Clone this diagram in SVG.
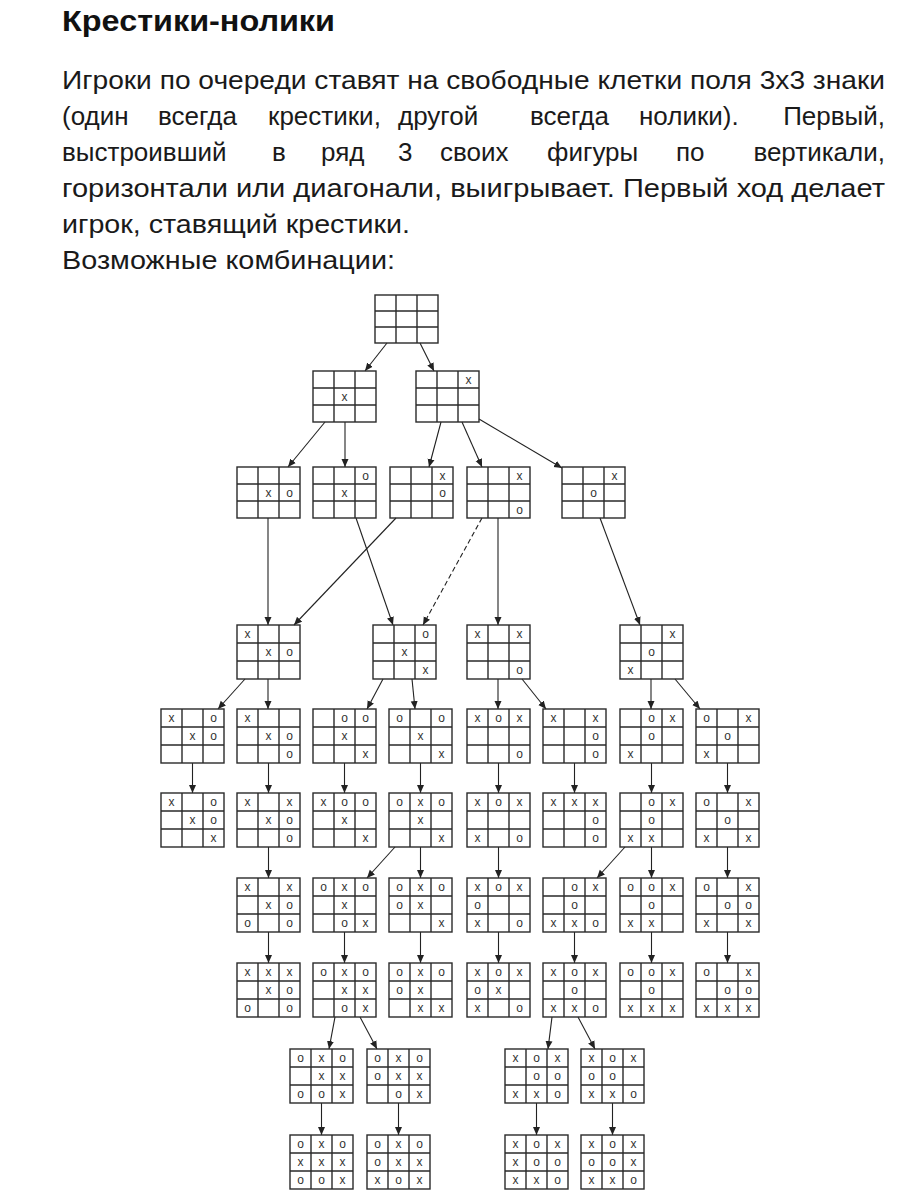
<svg xmlns="http://www.w3.org/2000/svg" xmlns:xlink="http://www.w3.org/1999/xlink" width="900" height="1200" viewBox="0 0 900 1200">
<style>
.title{font-family:"Liberation Sans",Arial,sans-serif;font-weight:bold;font-size:30px;fill:#111}
.body{font-family:"Liberation Sans",Arial,sans-serif;font-size:26px;fill:#1a1a1a}
.grid rect,.grid path{fill:none;stroke:#2a2a2a;stroke-width:1.4}
.m{font-family:"Liberation Sans",Arial,sans-serif;font-size:12px;fill:#333;text-anchor:middle;dominant-baseline:central}
.c line{stroke:#222;stroke-width:1.1;marker-end:url(#ah)}
.c .dash{stroke-dasharray:5 3}
</style>
<defs>
<g id="g48" class="grid"><rect width="63" height="48"/><path d="M21 0V48M42 0V48M0 16H63M0 32H63"/></g>
<g id="g51" class="grid"><rect width="63" height="51"/><path d="M21 0V51M42 0V51M0 17H63M0 34H63"/></g>
<g id="g54" class="grid"><rect width="63" height="54"/><path d="M21 0V54M42 0V54M0 18H63M0 36H63"/></g>
<marker id="ah" markerWidth="9" markerHeight="8" refX="8" refY="4" orient="auto" markerUnits="userSpaceOnUse"><path d="M0,0.5 L8,4 L0,7.5 z" fill="#222"/></marker>
</defs>
<rect width="900" height="1200" fill="#fff"/>

<text class="title" x="62" y="31" textLength="273" lengthAdjust="spacingAndGlyphs">Крестики-нолики</text>
<g id="description" class="body">
<text x="62" y="89" textLength="823" lengthAdjust="spacingAndGlyphs">Игроки по очереди ставят на свободные клетки поля 3х3 знаки</text>
<text y="125"><tspan x="62">(один</tspan><tspan x="158">всегда</tspan><tspan x="268">крестики,</tspan><tspan x="398">другой</tspan><tspan x="530">всегда</tspan><tspan x="639">нолики).</tspan></text>
<text x="885" y="125" text-anchor="end">Первый,</text>
<text y="161"><tspan x="62">выстроивший</tspan><tspan x="272">в</tspan><tspan x="321">ряд</tspan><tspan x="398">3</tspan><tspan x="440">своих</tspan><tspan x="547">фигуры</tspan><tspan x="676">по</tspan></text>
<text x="885" y="161" text-anchor="end">вертикали,</text>
<text x="62" y="197" textLength="823" lengthAdjust="spacingAndGlyphs">горизонтали или диагонали, выигрывает. Первый ход делает</text>
<text x="62" y="233" textLength="348" lengthAdjust="spacingAndGlyphs">игрок, ставящий крестики.</text>
<text x="62" y="269" textLength="333" lengthAdjust="spacingAndGlyphs">Возможные комбинации:</text>
</g>

<g id="connectors" class="c">
<line x1="387" y1="343" x2="365" y2="371"/>
<line x1="420" y1="343" x2="434" y2="371"/>
<line x1="325" y1="422" x2="288" y2="467"/>
<line x1="345" y1="422" x2="345" y2="467"/>
<line x1="441" y1="422" x2="429" y2="467"/>
<line x1="462" y1="422" x2="482" y2="467"/>
<line x1="479" y1="419" x2="562" y2="468"/>
<line x1="268" y1="518" x2="268" y2="625"/>
<line x1="396" y1="518" x2="294" y2="625"/>
<line x1="356" y1="518" x2="393" y2="625"/>
<line class="dash" x1="482" y1="518" x2="423" y2="625"/>
<line x1="498" y1="518" x2="498" y2="625"/>
<line x1="600" y1="518" x2="640" y2="625"/>
<line x1="245" y1="679" x2="218" y2="709"/>
<line x1="268" y1="679" x2="268" y2="709"/>
<line x1="383" y1="679" x2="367" y2="709"/>
<line x1="412" y1="679" x2="415" y2="709"/>
<line x1="498" y1="679" x2="498" y2="709"/>
<line x1="522" y1="679" x2="546" y2="709"/>
<line x1="651" y1="679" x2="651" y2="709"/>
<line x1="675" y1="679" x2="700" y2="709"/>
<line x1="192.5" y1="763" x2="192.5" y2="793"/>
<line x1="268.5" y1="763" x2="268.5" y2="793"/>
<line x1="344.5" y1="763" x2="344.5" y2="793"/>
<line x1="420.5" y1="763" x2="420.5" y2="793"/>
<line x1="498.5" y1="763" x2="498.5" y2="793"/>
<line x1="574.5" y1="763" x2="574.5" y2="793"/>
<line x1="651.5" y1="763" x2="651.5" y2="793"/>
<line x1="727.5" y1="763" x2="727.5" y2="793"/>
<line x1="268.5" y1="847" x2="268.5" y2="878"/>
<line x1="395" y1="847" x2="367" y2="878"/>
<line x1="420.5" y1="847" x2="420.5" y2="878"/>
<line x1="498.5" y1="847" x2="498.5" y2="878"/>
<line x1="625" y1="847" x2="597" y2="878"/>
<line x1="651.5" y1="847" x2="651.5" y2="878"/>
<line x1="727.5" y1="847" x2="727.5" y2="878"/>
<line x1="268.5" y1="932" x2="268.5" y2="963"/>
<line x1="344.5" y1="932" x2="344.5" y2="963"/>
<line x1="420.5" y1="932" x2="420.5" y2="963"/>
<line x1="498.5" y1="932" x2="498.5" y2="963"/>
<line x1="574.5" y1="932" x2="574.5" y2="963"/>
<line x1="651.5" y1="932" x2="651.5" y2="963"/>
<line x1="727.5" y1="932" x2="727.5" y2="963"/>
<line x1="335" y1="1017" x2="329" y2="1049"/>
<line x1="360" y1="1017" x2="377" y2="1049"/>
<line x1="552" y1="1017" x2="548" y2="1049"/>
<line x1="578" y1="1017" x2="595" y2="1049"/>
<line x1="321.5" y1="1103" x2="321.5" y2="1135"/>
<line x1="398.5" y1="1103" x2="398.5" y2="1135"/>
<line x1="536.5" y1="1103" x2="536.5" y2="1135"/>
<line x1="612.5" y1="1103" x2="612.5" y2="1135"/>
</g>

<g id="root" transform="translate(375,295)"><use href="#g48"/></g>
<g id="l1a" transform="translate(313,371)"><use href="#g51"/><text class="m" x="31.5" y="25.5">x</text></g>
<g id="l1b" transform="translate(416,371)"><use href="#g51"/><text class="m" x="52.5" y="8.5">x</text></g>

<g id="l2a" transform="translate(237,467)"><use href="#g51"/><text class="m" x="31.5 52.5" y="25.5">xo</text></g>
<g id="l2b" transform="translate(313,467)"><use href="#g51"/><text class="m" x="52.5" y="8.5">o</text><text class="m" x="31.5" y="25.5">x</text></g>
<g id="l2c" transform="translate(390,467)"><use href="#g51"/><text class="m" x="52.5" y="8.5">x</text><text class="m" x="52.5" y="25.5">o</text></g>
<g id="l2d" transform="translate(467,467)"><use href="#g51"/><text class="m" x="52.5" y="8.5">x</text><text class="m" x="52.5" y="42.5">o</text></g>
<g id="l2e" transform="translate(562,467)"><use href="#g51"/><text class="m" x="52.5" y="8.5">x</text><text class="m" x="31.5" y="25.5">o</text></g>

<g id="l3a" transform="translate(237,625)"><use href="#g54"/><text class="m" x="10.5" y="9">x</text><text class="m" x="31.5 52.5" y="27">xo</text></g>
<g id="l3b" transform="translate(373,625)"><use href="#g54"/><text class="m" x="52.5" y="9">o</text><text class="m" x="31.5" y="27">x</text><text class="m" x="52.5" y="45">x</text></g>
<g id="l3c" transform="translate(467,625)"><use href="#g54"/><text class="m" x="10.5 52.5" y="9">xx</text><text class="m" x="52.5" y="45">o</text></g>
<g id="l3d" transform="translate(620,625)"><use href="#g54"/><text class="m" x="52.5" y="9">x</text><text class="m" x="31.5" y="27">o</text><text class="m" x="10.5" y="45">x</text></g>

<g id="r4a" transform="translate(161,709)"><use href="#g54"/><text class="m" x="10.5 52.5" y="9">xo</text><text class="m" x="31.5 52.5" y="27">xo</text></g>
<g id="r4b" transform="translate(237,709)"><use href="#g54"/><text class="m" x="10.5" y="9">x</text><text class="m" x="31.5 52.5" y="27">xo</text><text class="m" x="52.5" y="45">o</text></g>
<g id="r4c" transform="translate(313,709)"><use href="#g54"/><text class="m" x="31.5 52.5" y="9">oo</text><text class="m" x="31.5" y="27">x</text><text class="m" x="52.5" y="45">x</text></g>
<g id="r4d" transform="translate(389,709)"><use href="#g54"/><text class="m" x="10.5 52.5" y="9">oo</text><text class="m" x="31.5" y="27">x</text><text class="m" x="52.5" y="45">x</text></g>
<g id="r4e" transform="translate(467,709)"><use href="#g54"/><text class="m" x="10.5 31.5 52.5" y="9">xox</text><text class="m" x="52.5" y="45">o</text></g>
<g id="r4f" transform="translate(543,709)"><use href="#g54"/><text class="m" x="10.5 52.5" y="9">xx</text><text class="m" x="52.5" y="27">o</text><text class="m" x="52.5" y="45">o</text></g>
<g id="r4g" transform="translate(620,709)"><use href="#g54"/><text class="m" x="31.5 52.5" y="9">ox</text><text class="m" x="31.5" y="27">o</text><text class="m" x="10.5" y="45">x</text></g>
<g id="r4h" transform="translate(696,709)"><use href="#g54"/><text class="m" x="10.5 52.5" y="9">ox</text><text class="m" x="31.5" y="27">o</text><text class="m" x="10.5" y="45">x</text></g>

<g id="r5a" transform="translate(161,793)"><use href="#g54"/><text class="m" x="10.5 52.5" y="9">xo</text><text class="m" x="31.5 52.5" y="27">xo</text><text class="m" x="52.5" y="45">x</text></g>
<g id="r5b" transform="translate(237,793)"><use href="#g54"/><text class="m" x="10.5 52.5" y="9">xx</text><text class="m" x="31.5 52.5" y="27">xo</text><text class="m" x="52.5" y="45">o</text></g>
<g id="r5c" transform="translate(313,793)"><use href="#g54"/><text class="m" x="10.5 31.5 52.5" y="9">xoo</text><text class="m" x="31.5" y="27">x</text><text class="m" x="52.5" y="45">x</text></g>
<g id="r5d" transform="translate(389,793)"><use href="#g54"/><text class="m" x="10.5 31.5 52.5" y="9">oxo</text><text class="m" x="31.5" y="27">x</text><text class="m" x="52.5" y="45">x</text></g>
<g id="r5e" transform="translate(467,793)"><use href="#g54"/><text class="m" x="10.5 31.5 52.5" y="9">xox</text><text class="m" x="10.5 52.5" y="45">xo</text></g>
<g id="r5f" transform="translate(543,793)"><use href="#g54"/><text class="m" x="10.5 31.5 52.5" y="9">xxx</text><text class="m" x="52.5" y="27">o</text><text class="m" x="52.5" y="45">o</text></g>
<g id="r5g" transform="translate(620,793)"><use href="#g54"/><text class="m" x="31.5 52.5" y="9">ox</text><text class="m" x="31.5" y="27">o</text><text class="m" x="10.5 31.5" y="45">xx</text></g>
<g id="r5h" transform="translate(696,793)"><use href="#g54"/><text class="m" x="10.5 52.5" y="9">ox</text><text class="m" x="31.5" y="27">o</text><text class="m" x="10.5 52.5" y="45">xx</text></g>

<g id="r6a" transform="translate(237,878)"><use href="#g54"/><text class="m" x="10.5 52.5" y="9">xx</text><text class="m" x="31.5 52.5" y="27">xo</text><text class="m" x="10.5 52.5" y="45">oo</text></g>
<g id="r6b" transform="translate(313,878)"><use href="#g54"/><text class="m" x="10.5 31.5 52.5" y="9">oxo</text><text class="m" x="31.5" y="27">x</text><text class="m" x="31.5 52.5" y="45">ox</text></g>
<g id="r6c" transform="translate(389,878)"><use href="#g54"/><text class="m" x="10.5 31.5 52.5" y="9">oxo</text><text class="m" x="10.5 31.5" y="27">ox</text><text class="m" x="52.5" y="45">x</text></g>
<g id="r6d" transform="translate(467,878)"><use href="#g54"/><text class="m" x="10.5 31.5 52.5" y="9">xox</text><text class="m" x="10.5" y="27">o</text><text class="m" x="10.5 52.5" y="45">xo</text></g>
<g id="r6e" transform="translate(543,878)"><use href="#g54"/><text class="m" x="31.5 52.5" y="9">ox</text><text class="m" x="31.5" y="27">o</text><text class="m" x="10.5 31.5 52.5" y="45">xxo</text></g>
<g id="r6f" transform="translate(620,878)"><use href="#g54"/><text class="m" x="10.5 31.5 52.5" y="9">oox</text><text class="m" x="31.5" y="27">o</text><text class="m" x="10.5 31.5" y="45">xx</text></g>
<g id="r6g" transform="translate(696,878)"><use href="#g54"/><text class="m" x="10.5 52.5" y="9">ox</text><text class="m" x="31.5 52.5" y="27">oo</text><text class="m" x="10.5 52.5" y="45">xx</text></g>

<g id="r7a" transform="translate(237,963)"><use href="#g54"/><text class="m" x="10.5 31.5 52.5" y="9">xxx</text><text class="m" x="31.5 52.5" y="27">xo</text><text class="m" x="10.5 52.5" y="45">oo</text></g>
<g id="r7b" transform="translate(313,963)"><use href="#g54"/><text class="m" x="10.5 31.5 52.5" y="9">oxo</text><text class="m" x="31.5 52.5" y="27">xx</text><text class="m" x="31.5 52.5" y="45">ox</text></g>
<g id="r7c" transform="translate(389,963)"><use href="#g54"/><text class="m" x="10.5 31.5 52.5" y="9">oxo</text><text class="m" x="10.5 31.5" y="27">ox</text><text class="m" x="31.5 52.5" y="45">xx</text></g>
<g id="r7d" transform="translate(467,963)"><use href="#g54"/><text class="m" x="10.5 31.5 52.5" y="9">xox</text><text class="m" x="10.5 31.5" y="27">ox</text><text class="m" x="10.5 52.5" y="45">xo</text></g>
<g id="r7e" transform="translate(543,963)"><use href="#g54"/><text class="m" x="10.5 31.5 52.5" y="9">xox</text><text class="m" x="31.5" y="27">o</text><text class="m" x="10.5 31.5 52.5" y="45">xxo</text></g>
<g id="r7f" transform="translate(620,963)"><use href="#g54"/><text class="m" x="10.5 31.5 52.5" y="9">oox</text><text class="m" x="31.5" y="27">o</text><text class="m" x="10.5 31.5 52.5" y="45">xxx</text></g>
<g id="r7g" transform="translate(696,963)"><use href="#g54"/><text class="m" x="10.5 52.5" y="9">ox</text><text class="m" x="31.5 52.5" y="27">oo</text><text class="m" x="10.5 31.5 52.5" y="45">xxx</text></g>

<g id="r8a" transform="translate(290,1049)"><use href="#g54"/><text class="m" x="10.5 31.5 52.5" y="9">oxo</text><text class="m" x="31.5 52.5" y="27">xx</text><text class="m" x="10.5 31.5 52.5" y="45">oox</text></g>
<g id="r8b" transform="translate(367,1049)"><use href="#g54"/><text class="m" x="10.5 31.5 52.5" y="9">oxo</text><text class="m" x="10.5 31.5 52.5" y="27">oxx</text><text class="m" x="31.5 52.5" y="45">ox</text></g>
<g id="r8c" transform="translate(505,1049)"><use href="#g54"/><text class="m" x="10.5 31.5 52.5" y="9">xox</text><text class="m" x="31.5 52.5" y="27">oo</text><text class="m" x="10.5 31.5 52.5" y="45">xxo</text></g>
<g id="r8d" transform="translate(581,1049)"><use href="#g54"/><text class="m" x="10.5 31.5 52.5" y="9">xox</text><text class="m" x="10.5 31.5" y="27">oo</text><text class="m" x="10.5 31.5 52.5" y="45">xxo</text></g>

<g id="r9a" transform="translate(290,1135)"><use href="#g54"/><text class="m" x="10.5 31.5 52.5" y="9">oxo</text><text class="m" x="10.5 31.5 52.5" y="27">xxx</text><text class="m" x="10.5 31.5 52.5" y="45">oox</text></g>
<g id="r9b" transform="translate(367,1135)"><use href="#g54"/><text class="m" x="10.5 31.5 52.5" y="9">oxo</text><text class="m" x="10.5 31.5 52.5" y="27">oxx</text><text class="m" x="10.5 31.5 52.5" y="45">xox</text></g>
<g id="r9c" transform="translate(505,1135)"><use href="#g54"/><text class="m" x="10.5 31.5 52.5" y="9">xox</text><text class="m" x="10.5 31.5 52.5" y="27">xoo</text><text class="m" x="10.5 31.5 52.5" y="45">xxo</text></g>
<g id="r9d" transform="translate(581,1135)"><use href="#g54"/><text class="m" x="10.5 31.5 52.5" y="9">xox</text><text class="m" x="10.5 31.5 52.5" y="27">oox</text><text class="m" x="10.5 31.5 52.5" y="45">xxo</text></g>
</svg>
